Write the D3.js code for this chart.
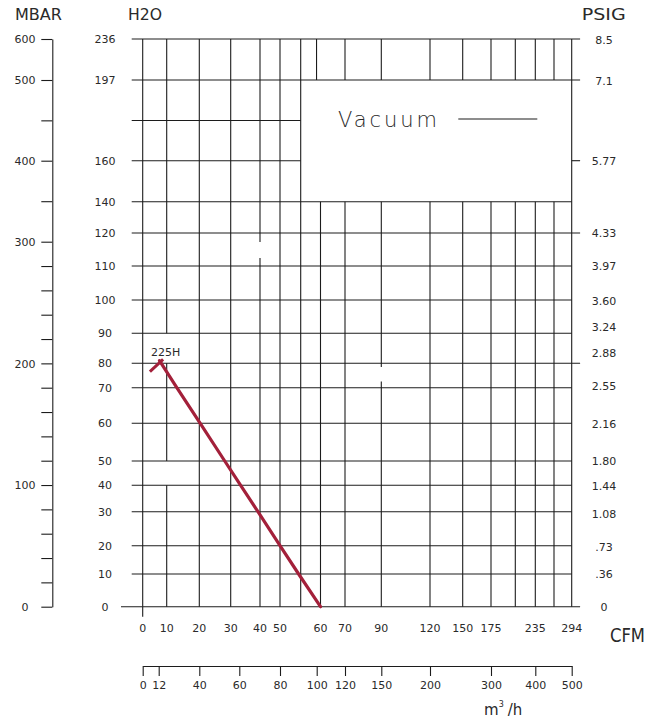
<!DOCTYPE html>
<html>
<head>
<meta charset="utf-8">
<script src="https://cdn.jsdelivr.net/npm/d3@7"></script>
<style>
  html, body { margin: 0; padding: 0; background: #fff; }
  svg { display: block; }
  text { font-family: "DejaVu Sans", sans-serif; fill: #2a2a2a; }
</style>
</head>
<body>
<svg id="chart" width="660" height="723"></svg>
<script>
// ---------------- data ----------------
// horizontal grid rows, inches H2O (178 is an unlabeled row)
const h2oRows   = [0, 10, 20, 30, 40, 50, 60, 70, 80, 90, 100, 110, 120, 140, 160, 178, 197, 236];
const h2oLabels = ["0","10","20","30","40","50","60","70","80","90","100","110","120","140","160","","197","236"];
// vertical grid columns, CFM (55, 205, 265 are unlabeled)
const cfmCols   = [0, 10, 20, 30, 40, 50, 55, 60, 70, 90, 120, 150, 175, 205, 235, 265, 294];
const cfmLabels = ["0","10","20","30","40","50","","60","70","90","120","150","175","","235","","294"];
// secondary flow axis, m3/h
const m3hTicks  = [0, 12, 40, 60, 80, 100, 120, 150, 200, 300, 400, 500];
// pressure axes
const mbarTicks  = [0, 20, 40, 60, 80, 100, 120, 140, 160, 180, 200, 220, 240, 260, 280, 300, 350, 400, 450, 500, 600];
const mbarLabels = [0, 100, 200, 300, 400, 500, 600];
const psigLabels = ["8.5","7.1","5.77","4.33","3.97","3.60","3.24","2.88","2.55","2.16","1.80","1.44","1.08",".73",".36","0"];
// curve 225H: [CFM, inches H2O]
const curveName = "225H";
const curve225H = [[7, 80.9], [13.1, 70], [20.3, 60], [28.1, 50], [33.4, 40], [39.3, 30], [50, 20], [54.5, 10], [60, 0]];
const curveCap  = [[3, 76.6], [8.5, 81.3]];
// grid column segments (from H2O, to H2O) – gaps as in the drawing
const colSegments = {
  0: [[236, 0]], 10: [[236, 90], [80, 50], [40, 0]], 20: [[236, 0]], 30: [[236, 0]],
  40: [[236, 117.3], [112.4, 0]], 50: [[236, 0]], 55: [[236, 0]], 59: [[236, 197]],
  60: [[140, 0]], 70: [[236, 197], [140, 0]], 90: [[236, 197], [140, 78.5], [72.5, 0]],
  120: [[236, 197], [140, 0]], 150: [[236, 197], [140, 0]], 175: [[236, 197], [140, 0]],
  205: [[236, 197], [140, 0]], 235: [[236, 197], [140, 0]], 265: [[236, 197], [140, 0]],
  294: [[236, 0]]
};
const PSI_TO_H2O = 27.68;

// ---------------- scales ----------------
const x = d3.scaleLinear()
  .domain(cfmCols)
  .range([142.7, 166.7, 199.3, 230.7, 260, 280, 300.7, 320.5, 345, 381.3, 430, 462.7, 491, 515.3, 535.3, 554, 571.7]);
const y = d3.scaleLinear()
  .domain(h2oRows)
  .range([606.7, 574, 545.7, 511.7, 485.3, 461, 423.3, 387.7, 363.3, 333.3, 300, 266, 233, 201.7, 160.7, 120.5, 80, 39]);
const xm3 = d3.scaleLinear()
  .domain(m3hTicks)
  .range([142.7, 158.7, 199.3, 239.3, 280, 316.7, 345, 381.3, 430, 491, 535.3, 571.7]);
const yMbar = d3.scaleLinear()
  .domain([0, 300, 400, 500, 600])
  .range([606.7, 241.7, 160.7, 80, 39]);

const svg = d3.select("#chart");
const LINE = "#1c1c1c";

// ---------------- grid ----------------
const grid = svg.append("g").attr("stroke", LINE).attr("stroke-width", 1.1).attr("fill", "none");

// rows
const extRight = new Set([236, 197, 120, 80, 0]);
const shortRows = new Set([160, 178]);
h2oRows.forEach(v => {
  const x0 = v === 0 ? x(0) - 21.7 : x(0) - 11;
  let x1 = shortRows.has(v) ? x(55) : x(294);
  if (extRight.has(v)) x1 += 8.4;
  grid.append("line").attr("x1", x0).attr("x2", x1).attr("y1", y(v)).attr("y2", y(v));
});
// 5.77 tick on the right
grid.append("line").attr("x1", x(294)).attr("x2", x(294) + 8.4).attr("y1", y(160)).attr("y2", y(160));

// columns
Object.keys(colSegments).forEach(k => {
  const c = +k;
  colSegments[k].forEach(([a, b]) => {
    grid.append("line").attr("x1", x(c)).attr("x2", x(c)).attr("y1", y(a)).attr("y2", y(b));
  });
});
// small tick under 0 CFM
grid.append("line").attr("x1", x(0)).attr("x2", x(0)).attr("y1", y(0)).attr("y2", y(0) + 10);

// ---------------- labels ----------------
const lab = svg.append("g").attr("font-size", 11);
// H2O labels
h2oRows.forEach((v, i) => {
  if (!h2oLabels[i]) return;
  lab.append("text").attr("x", 105).attr("y", y(v) + 4).attr("text-anchor", "middle").text(h2oLabels[i]);
});
// PSIG labels (positioned by their H2O equivalent)
const psigNudge = { "3.24": -7, "2.88": -11, "1.08": 2, ".73": 2 };
psigLabels.forEach(s => {
  const yy = y(parseFloat(s) * PSI_TO_H2O) + (psigNudge[s] || 0);
  lab.append("text").attr("x", 604).attr("y", yy + 4).attr("text-anchor", "middle").text(s);
});
// CFM labels
cfmCols.forEach((v, i) => {
  if (!cfmLabels[i]) return;
  lab.append("text").attr("x", x(v)).attr("y", 631.5).attr("text-anchor", "middle").text(cfmLabels[i]);
});

// ---------------- MBAR axis ----------------
const mbarAxis = d3.axisLeft(yMbar).tickValues(mbarTicks).tickSize(11).tickSizeOuter(0)
  .tickFormat(d => mbarLabels.includes(d) ? String(d) : "");
const gM = svg.append("g").attr("transform", "translate(52.3,0)").call(mbarAxis);
gM.select(".domain").attr("stroke", LINE).attr("stroke-width", 1.1);
gM.selectAll(".tick line").attr("stroke", LINE).attr("stroke-width", 1.1);
gM.selectAll(".tick text").attr("x", -27.3).attr("text-anchor", "middle")
  .attr("font-size", 11).attr("font-family", "DejaVu Sans").attr("fill", "#2a2a2a").attr("dy", "0.33em");

// ---------------- m3/h axis ----------------
const m3Axis = d3.axisBottom(xm3).tickValues(m3hTicks).tickSize(10).tickSizeOuter(0).tickPadding(5);
const gB = svg.append("g").attr("transform", "translate(0,666)").call(m3Axis);
gB.select(".domain").attr("stroke", LINE).attr("stroke-width", 1.1);
gB.selectAll(".tick line").attr("stroke", LINE).attr("stroke-width", 1.1);
gB.selectAll(".tick text").attr("font-size", 11).attr("font-family", "DejaVu Sans").attr("fill", "#2a2a2a");

// ---------------- curve ----------------
const line = d3.line().x(d => x(d[0])).y(d => y(d[1]));
svg.append("path").datum(curve225H).attr("d", line)
  .attr("fill", "none").attr("stroke", "#a3203a").attr("stroke-width", 3.2).attr("stroke-linecap", "round");
svg.append("path").datum(curveCap).attr("d", line)
  .attr("fill", "none").attr("stroke", "#a3203a").attr("stroke-width", 3);
svg.append("text").attr("x", x(3.5)).attr("y", 356).attr("font-size", 11).text(curveName);

// ---------------- titles ----------------
svg.append("text").attr("x", 15).attr("y", 20).attr("font-size", 15).attr("textLength", 47).attr("lengthAdjust", "spacingAndGlyphs").text("MBAR");
svg.append("text").attr("x", 128).attr("y", 20).attr("font-size", 15).attr("textLength", 34).attr("lengthAdjust", "spacingAndGlyphs").text("H2O");
svg.append("text").attr("x", 581.7).attr("y", 20).attr("font-size", 15).attr("textLength", 44).attr("lengthAdjust", "spacingAndGlyphs").text("PSIG");
svg.append("text").attr("x", 610).attr("y", 641.7).attr("font-size", 19).attr("textLength", 35).attr("lengthAdjust", "spacingAndGlyphs").text("CFM");
const mh = svg.append("text").attr("x", 484).attr("y", 715).attr("font-size", 15);
mh.append("tspan").text("m");
mh.append("tspan").attr("font-size", 8).attr("dy", -8).text("3");
mh.append("tspan").attr("dy", 8).attr("dx", 4).text("/h");

// Vacuum legend
svg.append("text").attr("x", 338).attr("y", 127).attr("font-size", 21).attr("font-weight", 200)
  .attr("textLength", 99).attr("lengthAdjust", "spacing").text("Vacuum");
svg.append("line").attr("x1", 458.3).attr("x2", 537.3).attr("y1", 119).attr("y2", 119)
  .attr("stroke", LINE).attr("stroke-width", 1.1);
</script>
</body>
</html>
